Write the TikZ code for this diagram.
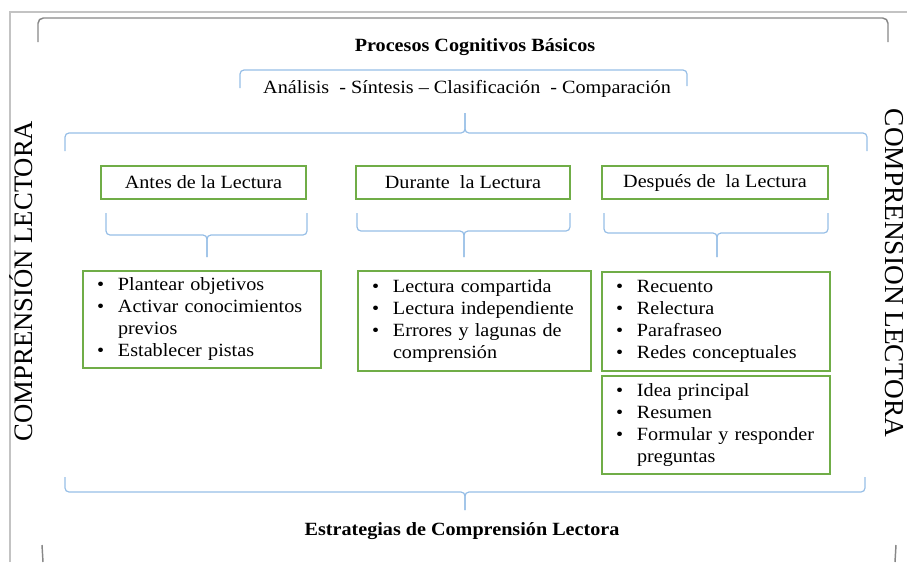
\documentclass[tikz,border=0pt]{standalone}
\usepackage{fontspec}
\setmainfont{Liberation Serif}[FakeStretch=1.08]
\newfontfamily\sidefont{Liberation Serif}
\usetikzlibrary{positioning}
\definecolor{boxgreen}{RGB}{112,173,71}
\definecolor{braceblue}{RGB}{150,190,230}
\definecolor{framegray}{RGB}{195,195,195}
\definecolor{bracketgray}{RGB}{135,135,135}

\begin{document}
\begin{tikzpicture}[x=0.75pt, y=-0.75pt,
    every node/.style={font=\fontsize{14}{16.5}\selectfont},
    titletext/.style={font=\fontsize{14}{16.5}\selectfont\bfseries},
    sidetext/.style={font=\sidefont\fontsize{20}{24}\selectfont, inner sep=0pt, anchor=south},
    headbox/.style={draw=boxgreen, line width=1.2pt, minimum height=24.75pt, inner sep=0pt},
    listbox/.style={draw=boxgreen, line width=1.2pt, inner xsep=10.5pt, inner ysep=0pt, align=left},
    brace/.style={draw=braceblue, line width=0.9pt, rounded corners=3pt}]
				      \useasboundingbox (0,0) rectangle (907,562);
				      \draw[framegray, line width=0.8pt] (10,562) -- (10,12) -- (907,12);
				      \draw[bracketgray, line width=1.1pt, rounded corners=4pt] (38,42) -- (38,18) -- (888,18) -- (888,42);
				      \draw[bracketgray, line width=1.1pt] (42,545) -- (43,562);
				      \draw[bracketgray, line width=1.1pt] (896,545) -- (895,562);

				      \node[titletext] (procesos) at (475,47) {Procesos Cognitivos Básicos};
				      \draw[brace] (240,88) -- (240,70) -- (687,70) -- (687,86);
				      \node (basicos) at (467,89) {Análisis~ - Síntesis – Clasificación~ - Comparación};

				      \draw[brace] (65,151) -- (65,133) -- (465,133) -- (465,113);
				      \draw[brace] (867,151) -- (867,133) -- (465,133) -- (465,113);

				      \node[sidetext, rotate=90] (izq) at (33,281) {COMPRENSIÓN LECTORA};
				      \node[sidetext, rotate=-90, font=\sidefont\fontsize{20.5}{24}\selectfont] (der) at (885,273) {COMPRENSION LECTORA};

				      \node[headbox, minimum width=153.75pt] (antes) at (203.5,182.5) {Antes de la Lectura};
				      \node[headbox, minimum width=160.5pt] (durante) at (463,182.5) {Durante~ la Lectura};
				      \node[headbox, minimum width=169.5pt] (despues) at (715,182.5) {Después de~ la Lectura};

				      \foreach \l/\m/\r/\y in {106/207/307/235, 357/464/570/231, 604/717/828/233}{
				        \draw[brace] (\l,213) -- (\l,\y) -- (\m,\y) -- (\m,257);
				        \draw[brace] (\r,213) -- (\r,\y) -- (\m,\y) -- (\m,257);
				      }

				      \node[listbox, text width=157.5pt, minimum height=72.75pt] (antesL) at (202,319.5) {%
				        \begin{tabular}{@{}p{15.75pt}@{}l@{}}
				          \textbullet & Plantear objetivos\\
				          \textbullet & Activar conocimientos\\
				                      & previos\\
				          \textbullet & Establecer pistas
				        \end{tabular}};
				      \node[listbox, text width=153.75pt, minimum height=75pt] (duranteL) at (474.5,321) {%
				        \begin{tabular}{@{}p{15.75pt}@{}l@{}}
				          \textbullet & Lectura compartida\\
				          \textbullet & Lectura independiente\\
				          \textbullet & Errores y lagunas de\\
				                      & comprensión
				        \end{tabular}};
				      \node[listbox, text width=150pt, minimum height=74.25pt] (despuesL) at (716,321.5) {%
				        \begin{tabular}{@{}p{15.75pt}@{}l@{}}
				          \textbullet & Recuento\\
				          \textbullet & Relectura\\
				          \textbullet & Parafraseo\\
				          \textbullet & Redes conceptuales
				        \end{tabular}};
				      \node[listbox, text width=150pt, minimum height=73.5pt] (despuesM) at (716,425) {%
				        \begin{tabular}{@{}p{15.75pt}@{}l@{}}
				          \textbullet & Idea principal\\
				          \textbullet & Resumen\\
				          \textbullet & Formular y responder\\
				                      & preguntas
				        \end{tabular}};

				      \draw[brace] (65,477) -- (65,492) -- (465,492) -- (465,510);
				      \draw[brace] (865,477) -- (865,492) -- (465,492) -- (465,510);
				      \node[titletext] (estrategias) at (462,531) {Estrategias de Comprensión Lectora};
			      \end{tikzpicture}
\end{document}
